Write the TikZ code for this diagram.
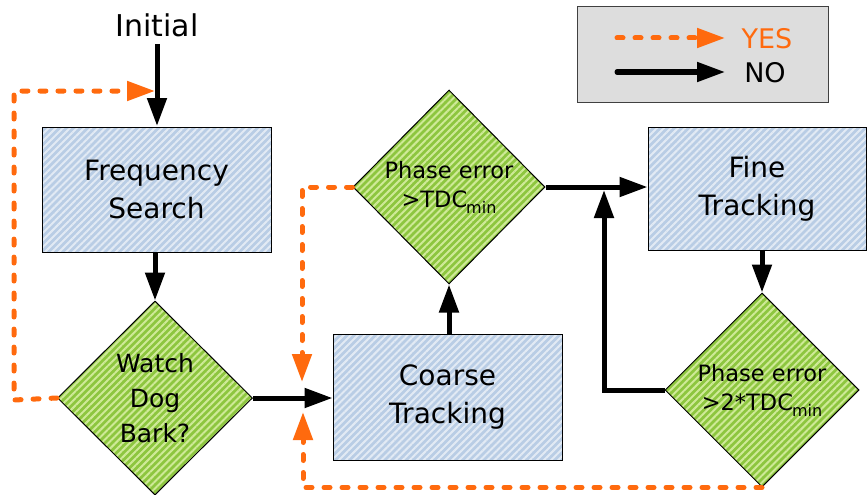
\documentclass[tikz,border=0pt]{standalone}
\usepackage{fontspec}
\setmainfont{DejaVu Sans}
\usetikzlibrary{arrows.meta,shapes.geometric,patterns.meta}
\definecolor{boxfill}{HTML}{B9CDE5}
\definecolor{boxstripe}{HTML}{E2EAF4}
\definecolor{diafill}{HTML}{8DC63F}
\definecolor{diastripe}{HTML}{CFEA98}
\definecolor{yesorange}{HTML}{FF6A0E}
\definecolor{legendfill}{HTML}{DDDDDD}
\tikzset{
  stepbox/.style={draw=black, line width=1pt, rectangle, preaction={fill=boxfill},
    pattern={Lines[angle=45,distance=5pt,line width=2pt]}, pattern color=boxstripe,
    inner sep=0pt},
  decision/.style={draw=black, line width=1pt, diamond, preaction={fill=diafill},
    pattern={Lines[angle=45,distance=5pt,line width=2pt]}, pattern color=diastripe,
    inner sep=0pt},
  boxtext/.style={align=center, font=\fontsize{28}{38}\selectfont},
  diatext/.style={align=center, font=\fontsize{22.5}{29}\selectfont},
  legtext/.style={font=\fontsize{27}{30}\selectfont},
  noarrow/.style={line width=5pt, black, -{Triangle[length=28pt,width=19pt]}},
  yesarrow/.style={line width=5pt, yesorange, line cap=round,
    dash pattern=on 6pt off 12pt, -{Triangle[length=28pt,width=19pt]}},
}
\newcommand{\tdcmin}{TDC\kern-1pt\raisebox{-6pt}{\fontsize{16}{16}\selectfont min}}
\begin{document}
\begin{tikzpicture}[x=1pt,y=-1pt]
\useasboundingbox (0,0) rectangle (867,495);

% process boxes
\node[stepbox, minimum width=229pt, minimum height=125pt] (freq) at (156.5,189.5) {};
\node[boxtext] at (freq) {Frequency\\Search};
\node[stepbox, minimum width=229pt, minimum height=126pt] (coarse) at (447.5,397) {};
\node[boxtext] at (coarse) {Coarse\\Tracking};
\node[stepbox, minimum width=218pt, minimum height=123pt] (fine) at (757,188.5) {};
\node[boxtext] at (fine) {Fine\\Tracking};

% decisions
\node[decision, minimum width=195pt, minimum height=194pt] (wdog) at (155,398) {};
\node[align=center, font=\fontsize{25}{35}\selectfont] at (wdog) {Watch\\Dog\\Bark?};
\node[decision, minimum width=192pt, minimum height=194pt] (pe1) at (449,187) {};
\node[diatext] at (pe1) {Phase error\\>\tdcmin};
\node[decision, minimum width=194pt, minimum height=194pt] (pe2) at (762,390) {};
\node[diatext] at (pe2) {Phase error\\>2*\tdcmin};

% start
\node[font=\fontsize{30}{34}\selectfont] (init) at (157,25) {Initial};
\coordinate (initfoot) at (157,44);
\coordinate (wdogcorner) at (14,400);
\coordinate (freqentry) at (155,91);
\coordinate (coarsein) at (302,382);
\coordinate (coarsein2) at (303,412);
\coordinate (finein) at (604,190);

% NO transitions
\draw[noarrow] (initfoot) -- (initfoot |- freq.north);
\draw[noarrow] (freq.south -| wdog.north) -- (wdog.north);
\draw[noarrow] (wdog.east) -- (wdog.east -| coarse.west);
\draw[noarrow] (coarse.north -| pe1.south) -- (pe1.south);
\draw[noarrow] (pe1.east) -- (pe1.east -| fine.west);
\draw[noarrow] (fine.south -| pe2.north) -- (pe2.north);
\draw[noarrow] (pe2.west) -| (finein);

% YES transitions
\draw[yesarrow] (wdog.west) -- (wdogcorner) |- (freqentry);
\draw[yesarrow] (pe1.west) -| (coarsein);
\draw[yesarrow] (pe2.south) -| (coarsein2);

% legend
\node[draw=black!75, line width=1pt, fill=legendfill, minimum width=251pt, minimum height=95pt, inner sep=0pt] (legend) at (702.5,54.5) {};
\coordinate (yesa) at (617,38);
\coordinate (yesb) at (725,38);
\coordinate (noa) at (617,72);
\coordinate (nob) at (725,72);
\draw[yesarrow] (yesa) -- (yesb);
\draw[noarrow, line cap=round] (noa) -- (nob);
\node[legtext, text=yesorange] (yes) at (767,39) {YES};
\node[legtext] (no) at (765,73) {NO};
\end{tikzpicture}
\end{document}
